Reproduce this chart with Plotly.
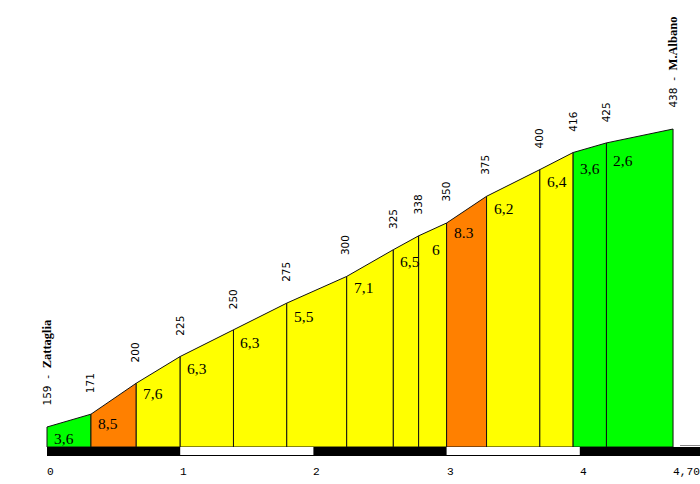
import plotly.graph_objects as go

# ---- data ----
dist_km = [0, 0.33, 0.67, 1.00, 1.40, 1.80, 2.25, 2.60, 2.79, 3.00, 3.30, 3.70, 3.95, 4.20, 4.70]
elev_m = [159, 171, 200, 225, 250, 275, 300, 325, 338, 350, 375, 400, 416, 425, 438]
slope_labels = ["3,6", "8,5", "7,6", "6,3", "6,3", "5,5", "7,1", "6,5", "6", "8.3", "6,2", "6,4", "3,6", "2,6"]
start_name = "Zattaglia"
end_name = "M.Albano"
tick_vals = [0, 1, 2, 3, 4, 4.70]
tick_text = ["0", "1", "2", "3", "4", "4,70"]

# ---- scales ----
W, H = 700, 484
PX_PER_KM = 133.2
PX_PER_M = 1.068
X0_PX = 47
BASE_PX = 447
base = elev_m[0] - (BASE_PX - 427) / PX_PER_M
x_range = [-X0_PX / PX_PER_KM, (W - X0_PX) / PX_PER_KM]
y_range = [base - (H - BASE_PX) / PX_PER_M, base + BASE_PX / PX_PER_M]
m_per_px = 1 / PX_PER_M

GREEN, YELLOW, ORANGE = "#00FF00", "#FFFF00", "#FF8000"


def slope_color(lbl):
    v = float(lbl.replace(",", "."))
    if v < 5:
        return GREEN
    if v > 8:
        return ORANGE
    return YELLOW


fig = go.Figure()

# segments
for i, lbl in enumerate(slope_labels):
    x0, x1 = dist_km[i], dist_km[i + 1]
    e0, e1 = elev_m[i], elev_m[i + 1]
    fig.add_trace(go.Scatter(
        x=[x0, x0, x1, x1, x0], y=[base, e0, e1, base, base],
        mode="lines", fill="toself", fillcolor=slope_color(lbl),
        line=dict(color="#111111", width=1), hoverinfo="skip", showlegend=False))

annotations = []
# slope labels (kept inside their segment, above the km bar)
for i, lbl in enumerate(slope_labels):
    x0, x1 = dist_km[i], dist_km[i + 1]
    e0, e1 = elev_m[i], elev_m[i + 1]
    xc = x0 + 17 / PX_PER_KM
    yc = e0 + (e1 - e0) * (xc - x0) / (x1 - x0) - 21 * m_per_px
    yc = max(yc, base + 9 * m_per_px)
    annotations.append(dict(
        x=xc, y=yc, text=lbl, showarrow=False, xanchor="center", yanchor="middle",
        font=dict(family="Liberation Serif", size=15.5, color="#000")))

# elevation labels
NB = "\u00a0"
for i, (d, e) in enumerate(zip(dist_km, elev_m)):
    txt = str(e)
    if i == 0 or i == len(elev_m) - 1:
        name = start_name if i == 0 else end_name
        txt = (f"{e}{NB} -{NB} <span style=\"font-family:Liberation Serif;font-size:12.5px\">"
               f"<b>{name}</b></span>")
    annotations.append(dict(
        x=d, y=e, text=txt, showarrow=False, textangle=-90,
        xanchor="center", yanchor="bottom", yshift=19, xshift=-1,
        font=dict(family="DejaVu Sans", size=10.5, color="#000")))

# distance tick labels
for v, t in zip(tick_vals, tick_text):
    annotations.append(dict(
        x=v, y=base, text=t, showarrow=False, xanchor="left", yanchor="middle",
        yshift=-25, xshift=-2,
        font=dict(family="Liberation Mono", size=11.2, color="#000")))

# km bar
bar_top = base
bar_bot = base - 9 * m_per_px
shapes = [dict(type="rect", xref="x", yref="y", x0=dist_km[0], x1=x_range[1],
               y0=bar_bot, y1=bar_top, fillcolor="#000", line=dict(width=0), layer="above")]
for k in range(len(tick_vals) - 1):
    a, b = tick_vals[k], tick_vals[k + 1]
    if k % 2 == 1:
        shapes.append(dict(type="rect", xref="x", yref="y", x0=a, x1=b,
                           y0=bar_bot + 1 * m_per_px, y1=bar_top, fillcolor="#fff",
                           line=dict(width=0), layer="above"))
shapes.append(dict(type="line", xref="x", yref="y", x0=dist_km[-1] + 7 / PX_PER_KM,
                   x1=x_range[1], y0=base + 1.5 * m_per_px, y1=base + 1.5 * m_per_px,
                   line=dict(color="#888", width=1), layer="above"))

fig.update_layout(
    width=W, height=H, margin=dict(l=0, r=0, t=0, b=0),
    paper_bgcolor="#fff", plot_bgcolor="#fff",
    xaxis=dict(range=x_range, visible=False, fixedrange=True),
    yaxis=dict(range=y_range, visible=False, fixedrange=True),
    annotations=annotations, shapes=shapes, showlegend=False)

fig.write_html("out.html", config={"displayModeBar": False})
